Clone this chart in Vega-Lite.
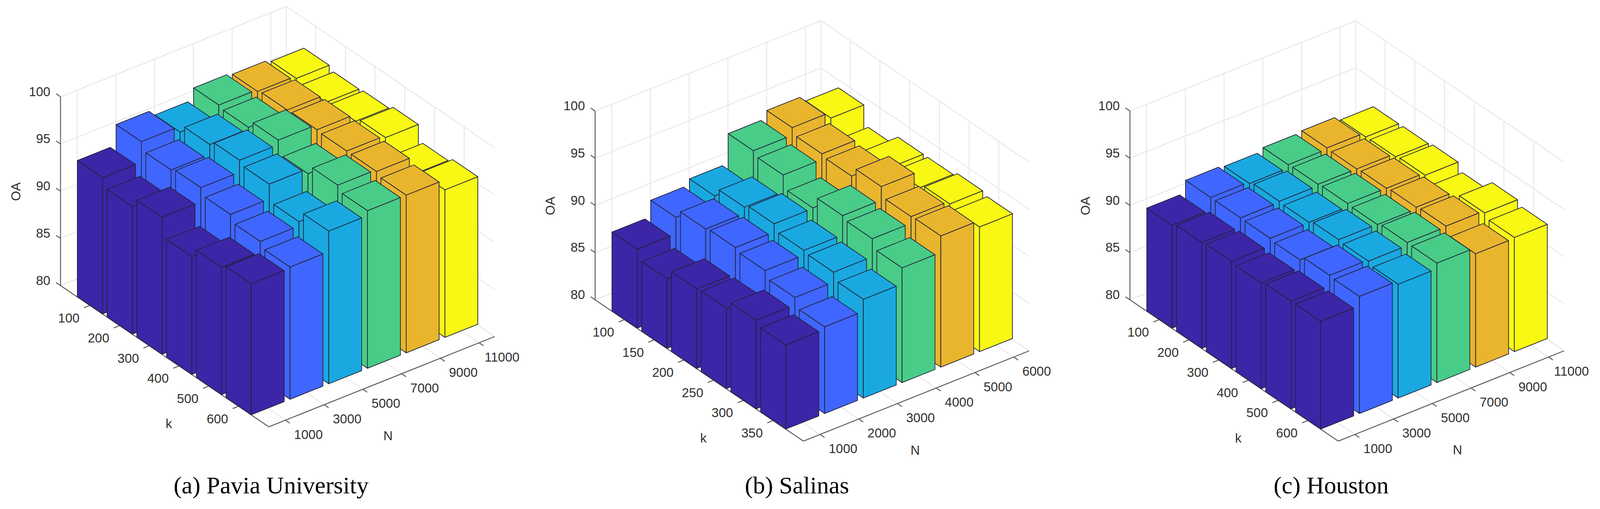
{
  "$schema": "https://vega.github.io/schema/vega-lite/v6.json",
  "autosize": {"type": "none"},
  "width": 4096,
  "height": 1302,
  "padding": 0,
  "background": "#ffffff",
  "config": {"view": {"stroke": null}},
  "params": [
    {"name": "a0", "value": -0.985},
    {"name": "a1", "value": 6.02},
    {"name": "b0", "value": -0.43},
    {"name": "b1", "value": 5.4},
    {"name": "w", "value": 0.425},
    {"name": "tk", "value": 0.15}
  ],
  "datasets": {
    "views": [
      {"panel": "a", "X0": 280.4, "Y0": 764.2},
      {"panel": "b", "X0": 1688.4, "Y0": 800.7},
      {"panel": "c", "X0": 3097, "Y0": 800.7}
    ]
  },
  "data": {"values": [
    {"panel":"a","kind":"frame"},{"panel":"b","kind":"frame"},{"panel":"c","kind":"frame"},
    {"panel":"a","kind":"k","pos":0,"label":"100"},{"panel":"a","kind":"k","pos":1,"label":"200"},{"panel":"a","kind":"k","pos":2,"label":"300"},{"panel":"a","kind":"k","pos":3,"label":"400"},{"panel":"a","kind":"k","pos":4,"label":"500"},{"panel":"a","kind":"k","pos":5,"label":"600"},
    {"panel":"a","kind":"N","pos":0,"label":"1000"},{"panel":"a","kind":"N","pos":1,"label":"3000"},{"panel":"a","kind":"N","pos":2,"label":"5000"},{"panel":"a","kind":"N","pos":3,"label":"7000"},{"panel":"a","kind":"N","pos":4,"label":"9000"},{"panel":"a","kind":"N","pos":5,"label":"11000"},
    {"panel":"b","kind":"k","pos":0,"label":"100"},{"panel":"b","kind":"k","pos":1,"label":"150"},{"panel":"b","kind":"k","pos":2,"label":"200"},{"panel":"b","kind":"k","pos":3,"label":"250"},{"panel":"b","kind":"k","pos":4,"label":"300"},{"panel":"b","kind":"k","pos":5,"label":"350"},
    {"panel":"b","kind":"N","pos":0,"label":"1000"},{"panel":"b","kind":"N","pos":1,"label":"2000"},{"panel":"b","kind":"N","pos":2,"label":"3000"},{"panel":"b","kind":"N","pos":3,"label":"4000"},{"panel":"b","kind":"N","pos":4,"label":"5000"},{"panel":"b","kind":"N","pos":5,"label":"6000"},
    {"panel":"c","kind":"k","pos":0,"label":"100"},{"panel":"c","kind":"k","pos":1,"label":"200"},{"panel":"c","kind":"k","pos":2,"label":"300"},{"panel":"c","kind":"k","pos":3,"label":"400"},{"panel":"c","kind":"k","pos":4,"label":"500"},{"panel":"c","kind":"k","pos":5,"label":"600"},
    {"panel":"c","kind":"N","pos":0,"label":"1000"},{"panel":"c","kind":"N","pos":1,"label":"3000"},{"panel":"c","kind":"N","pos":2,"label":"5000"},{"panel":"c","kind":"N","pos":3,"label":"7000"},{"panel":"c","kind":"N","pos":4,"label":"9000"},{"panel":"c","kind":"N","pos":5,"label":"11000"},
    {"panel":"a","kind":"OA","pos":80,"label":"80"},{"panel":"a","kind":"OA","pos":85,"label":"85"},{"panel":"a","kind":"OA","pos":90,"label":"90"},{"panel":"a","kind":"OA","pos":95,"label":"95"},{"panel":"a","kind":"OA","pos":100,"label":"100"},
    {"panel":"b","kind":"OA","pos":80,"label":"80"},{"panel":"b","kind":"OA","pos":85,"label":"85"},{"panel":"b","kind":"OA","pos":90,"label":"90"},{"panel":"b","kind":"OA","pos":95,"label":"95"},{"panel":"b","kind":"OA","pos":100,"label":"100"},
    {"panel":"c","kind":"OA","pos":80,"label":"80"},{"panel":"c","kind":"OA","pos":85,"label":"85"},{"panel":"c","kind":"OA","pos":90,"label":"90"},{"panel":"c","kind":"OA","pos":95,"label":"95"},{"panel":"c","kind":"OA","pos":100,"label":"100"},
    {"panel":"a","kind":"text","role":"t","label":"k","a":4.69,"b":-1.99,"z":80},{"panel":"a","kind":"text","role":"t","label":"N","a":7.8,"b":1.283,"z":80},{"panel":"a","kind":"text","role":"v","label":"OA","a":-1.52,"b":-1.16,"z":90},{"panel":"a","kind":"text","role":"cap","label":"(a) Pavia University","a":7.892,"b":-1.807,"z":80},
    {"panel":"b","kind":"text","role":"t","label":"k","a":4.69,"b":-1.99,"z":80},{"panel":"b","kind":"text","role":"t","label":"N","a":7.71,"b":1.159,"z":80},{"panel":"b","kind":"text","role":"v","label":"OA","a":-1.52,"b":-1.16,"z":90},{"panel":"b","kind":"text","role":"cap","label":"(b) Salinas","a":7.339,"b":-1.608,"z":80},
    {"panel":"c","kind":"text","role":"t","label":"k","a":4.69,"b":-1.99,"z":80},{"panel":"c","kind":"text","role":"t","label":"N","a":7.8,"b":1.283,"z":80},{"panel":"c","kind":"text","role":"v","label":"OA","a":-1.52,"b":-1.16,"z":90},{"panel":"c","kind":"text","role":"cap","label":"(c) Houston","a":7.331,"b":-1.618,"z":80},

    {"panel":"a","kind":"bar","k":100,"N":11000,"i":0,"j":5,"OA":96.74},{"panel":"a","kind":"bar","k":200,"N":11000,"i":1,"j":5,"OA":96.35},{"panel":"a","kind":"bar","k":300,"N":11000,"i":2,"j":5,"OA":96.48},{"panel":"a","kind":"bar","k":400,"N":11000,"i":3,"j":5,"OA":96.88},{"panel":"a","kind":"bar","k":500,"N":11000,"i":4,"j":5,"OA":95.2},{"panel":"a","kind":"bar","k":600,"N":11000,"i":5,"j":5,"OA":95.62},
    {"panel":"a","kind":"bar","k":100,"N":9000,"i":0,"j":4,"OA":97.0},{"panel":"a","kind":"bar","k":200,"N":9000,"i":1,"j":4,"OA":97.17},{"panel":"a","kind":"bar","k":300,"N":9000,"i":2,"j":4,"OA":97.22},{"panel":"a","kind":"bar","k":400,"N":9000,"i":3,"j":4,"OA":97.1},{"panel":"a","kind":"bar","k":500,"N":9000,"i":4,"j":4,"OA":97.07},{"panel":"a","kind":"bar","k":600,"N":9000,"i":5,"j":4,"OA":96.7},
    {"panel":"a","kind":"bar","k":100,"N":7000,"i":0,"j":3,"OA":97.2},{"panel":"a","kind":"bar","k":200,"N":7000,"i":1,"j":3,"OA":96.97},{"panel":"a","kind":"bar","k":300,"N":7000,"i":2,"j":3,"OA":97.76},{"panel":"a","kind":"bar","k":400,"N":7000,"i":3,"j":3,"OA":96.34},{"panel":"a","kind":"bar","k":500,"N":7000,"i":4,"j":3,"OA":97.26},{"panel":"a","kind":"bar","k":600,"N":7000,"i":5,"j":3,"OA":96.69},
    {"panel":"a","kind":"bar","k":100,"N":5000,"i":0,"j":2,"OA":95.97},{"panel":"a","kind":"bar","k":200,"N":5000,"i":1,"j":2,"OA":96.8},{"panel":"a","kind":"bar","k":300,"N":5000,"i":2,"j":2,"OA":97.27},{"panel":"a","kind":"bar","k":400,"N":5000,"i":3,"j":2,"OA":96.87},{"panel":"a","kind":"bar","k":500,"N":5000,"i":4,"j":2,"OA":95.03},{"panel":"a","kind":"bar","k":600,"N":5000,"i":5,"j":2,"OA":96.17},
    {"panel":"a","kind":"bar","k":100,"N":3000,"i":0,"j":1,"OA":96.6},{"panel":"a","kind":"bar","k":200,"N":3000,"i":1,"j":1,"OA":95.74},{"panel":"a","kind":"bar","k":300,"N":3000,"i":2,"j":1,"OA":96.0},{"panel":"a","kind":"bar","k":400,"N":3000,"i":3,"j":1,"OA":95.3},{"panel":"a","kind":"bar","k":500,"N":3000,"i":4,"j":1,"OA":94.58},{"panel":"a","kind":"bar","k":600,"N":3000,"i":5,"j":1,"OA":94.0},
    {"panel":"a","kind":"bar","k":100,"N":1000,"i":0,"j":0,"OA":94.43},{"panel":"a","kind":"bar","k":200,"N":1000,"i":1,"j":0,"OA":93.5},{"panel":"a","kind":"bar","k":300,"N":1000,"i":2,"j":0,"OA":94.5},{"panel":"a","kind":"bar","k":400,"N":1000,"i":3,"j":0,"OA":92.47},{"panel":"a","kind":"bar","k":500,"N":1000,"i":4,"j":0,"OA":93.46},{"panel":"a","kind":"bar","k":600,"N":1000,"i":5,"j":0,"OA":93.86},

    {"panel":"b","kind":"bar","k":100,"N":6000,"i":0,"j":5,"OA":94.05},{"panel":"b","kind":"bar","k":150,"N":6000,"i":1,"j":5,"OA":92.0},{"panel":"b","kind":"bar","k":200,"N":6000,"i":2,"j":5,"OA":93.1},{"panel":"b","kind":"bar","k":250,"N":6000,"i":3,"j":5,"OA":93.1},{"panel":"b","kind":"bar","k":300,"N":6000,"i":4,"j":5,"OA":93.5},{"panel":"b","kind":"bar","k":350,"N":6000,"i":5,"j":5,"OA":93.2},
    {"panel":"b","kind":"bar","k":100,"N":5000,"i":0,"j":4,"OA":94.68},{"panel":"b","kind":"bar","k":150,"N":5000,"i":1,"j":4,"OA":94.04},{"panel":"b","kind":"bar","k":200,"N":5000,"i":2,"j":4,"OA":93.82},{"panel":"b","kind":"bar","k":250,"N":5000,"i":3,"j":4,"OA":94.84},{"panel":"b","kind":"bar","k":300,"N":5000,"i":4,"j":4,"OA":93.8},{"panel":"b","kind":"bar","k":350,"N":5000,"i":5,"j":4,"OA":93.89},
    {"panel":"b","kind":"bar","k":100,"N":4000,"i":0,"j":3,"OA":93.87},{"panel":"b","kind":"bar","k":150,"N":4000,"i":1,"j":3,"OA":93.44},{"panel":"b","kind":"bar","k":200,"N":4000,"i":2,"j":3,"OA":92.09},{"panel":"b","kind":"bar","k":250,"N":4000,"i":3,"j":3,"OA":93.41},{"panel":"b","kind":"bar","k":300,"N":4000,"i":4,"j":3,"OA":93.1},{"panel":"b","kind":"bar","k":350,"N":4000,"i":5,"j":3,"OA":92.15},
    {"panel":"b","kind":"bar","k":100,"N":3000,"i":0,"j":2,"OA":90.72},{"panel":"b","kind":"bar","k":150,"N":3000,"i":1,"j":2,"OA":91.67},{"panel":"b","kind":"bar","k":200,"N":3000,"i":2,"j":2,"OA":92.04},{"panel":"b","kind":"bar","k":250,"N":3000,"i":3,"j":2,"OA":91.37},{"panel":"b","kind":"bar","k":300,"N":3000,"i":4,"j":2,"OA":91.19},{"panel":"b","kind":"bar","k":350,"N":3000,"i":5,"j":2,"OA":90.45},
    {"panel":"b","kind":"bar","k":100,"N":2000,"i":0,"j":1,"OA":90.09},{"panel":"b","kind":"bar","k":150,"N":2000,"i":1,"j":1,"OA":91.0},{"panel":"b","kind":"bar","k":200,"N":2000,"i":2,"j":1,"OA":91.17},{"panel":"b","kind":"bar","k":250,"N":2000,"i":3,"j":1,"OA":90.87},{"panel":"b","kind":"bar","k":300,"N":2000,"i":4,"j":1,"OA":90.15},{"panel":"b","kind":"bar","k":350,"N":2000,"i":5,"j":1,"OA":89.18},
    {"panel":"b","kind":"bar","k":100,"N":1000,"i":0,"j":0,"OA":88.36},{"panel":"b","kind":"bar","k":150,"N":1000,"i":1,"j":0,"OA":87.38},{"panel":"b","kind":"bar","k":200,"N":1000,"i":2,"j":0,"OA":88.42},{"panel":"b","kind":"bar","k":250,"N":1000,"i":3,"j":0,"OA":88.52},{"panel":"b","kind":"bar","k":300,"N":1000,"i":4,"j":0,"OA":89.38},{"panel":"b","kind":"bar","k":350,"N":1000,"i":5,"j":0,"OA":88.9},

    {"panel":"c","kind":"bar","k":100,"N":11000,"i":0,"j":5,"OA":92.05},{"panel":"c","kind":"bar","k":200,"N":11000,"i":1,"j":5,"OA":92.09},{"panel":"c","kind":"bar","k":300,"N":11000,"i":2,"j":5,"OA":92.27},{"panel":"c","kind":"bar","k":400,"N":11000,"i":3,"j":5,"OA":91.47},{"panel":"c","kind":"bar","k":500,"N":11000,"i":4,"j":5,"OA":92.55},{"panel":"c","kind":"bar","k":600,"N":11000,"i":5,"j":5,"OA":92.09},
    {"panel":"c","kind":"bar","k":100,"N":9000,"i":0,"j":4,"OA":92.53},{"panel":"c","kind":"bar","k":200,"N":9000,"i":1,"j":4,"OA":92.44},{"panel":"c","kind":"bar","k":300,"N":9000,"i":2,"j":4,"OA":92.53},{"panel":"c","kind":"bar","k":400,"N":9000,"i":3,"j":4,"OA":92.66},{"panel":"c","kind":"bar","k":500,"N":9000,"i":4,"j":4,"OA":92.79},{"panel":"c","kind":"bar","k":600,"N":9000,"i":5,"j":4,"OA":92.0},
    {"panel":"c","kind":"bar","k":100,"N":7000,"i":0,"j":3,"OA":92.39},{"panel":"c","kind":"bar","k":200,"N":7000,"i":1,"j":3,"OA":92.45},{"panel":"c","kind":"bar","k":300,"N":7000,"i":2,"j":3,"OA":92.55},{"panel":"c","kind":"bar","k":400,"N":7000,"i":3,"j":3,"OA":92.46},{"panel":"c","kind":"bar","k":500,"N":7000,"i":4,"j":3,"OA":92.7},{"panel":"c","kind":"bar","k":600,"N":7000,"i":5,"j":3,"OA":92.65},
    {"panel":"c","kind":"bar","k":100,"N":5000,"i":0,"j":2,"OA":92.04},{"panel":"c","kind":"bar","k":200,"N":5000,"i":1,"j":2,"OA":92.29},{"panel":"c","kind":"bar","k":300,"N":5000,"i":2,"j":2,"OA":92.2},{"panel":"c","kind":"bar","k":400,"N":5000,"i":3,"j":2,"OA":92.5},{"panel":"c","kind":"bar","k":500,"N":5000,"i":4,"j":2,"OA":92.36},{"panel":"c","kind":"bar","k":600,"N":5000,"i":5,"j":2,"OA":92.05},
    {"panel":"c","kind":"bar","k":100,"N":3000,"i":0,"j":1,"OA":92.2},{"panel":"c","kind":"bar","k":200,"N":3000,"i":1,"j":1,"OA":92.18},{"panel":"c","kind":"bar","k":300,"N":3000,"i":2,"j":1,"OA":92.15},{"panel":"c","kind":"bar","k":400,"N":3000,"i":3,"j":1,"OA":92.0},{"panel":"c","kind":"bar","k":500,"N":3000,"i":4,"j":1,"OA":92.5},{"panel":"c","kind":"bar","k":600,"N":3000,"i":5,"j":1,"OA":92.4},
    {"panel":"c","kind":"bar","k":100,"N":1000,"i":0,"j":0,"OA":90.9},{"panel":"c","kind":"bar","k":200,"N":1000,"i":1,"j":0,"OA":91.21},{"panel":"c","kind":"bar","k":300,"N":1000,"i":2,"j":0,"OA":91.34},{"panel":"c","kind":"bar","k":400,"N":1000,"i":3,"j":0,"OA":91.19},{"panel":"c","kind":"bar","k":500,"N":1000,"i":4,"j":0,"OA":91.4},{"panel":"c","kind":"bar","k":600,"N":1000,"i":5,"j":0,"OA":91.41}
  ]},
  "transform": [
    {"lookup": "panel", "from": {"data": {"name": "views"}, "key": "panel", "fields": ["X0", "Y0"]}},
    {"calculate": "datum.i-w", "as": "l"},
    {"calculate": "datum.i+w", "as": "h"},
    {"calculate": "datum.j-w", "as": "m"},
    {"calculate": "datum.j+w", "as": "n"},
    {"calculate": "datum.kind==='bar' ? [['f',0,0,datum.l,datum.m,datum.OA],['f',0,1,datum.h,datum.m,datum.OA],['f',0,2,datum.h,datum.n,datum.OA],['f',0,3,datum.l,datum.n,datum.OA],['f',1,0,datum.l,datum.m,datum.OA],['f',1,1,datum.h,datum.m,datum.OA],['f',1,2,datum.h,datum.m,80],['f',1,3,datum.l,datum.m,80],['f',2,0,datum.h,datum.m,datum.OA],['f',2,1,datum.h,datum.n,datum.OA],['f',2,2,datum.h,datum.n,80],['f',2,3,datum.h,datum.m,80]] : datum.kind==='k' ? [['g',0,0,datum.pos,b0,80],['g',0,1,datum.pos,b1,80],['g',1,0,datum.pos,b1,80],['g',1,1,datum.pos,b1,100],['a',2,0,datum.pos,b0,80],['a',2,1,datum.pos,b0-tk,80],['t',3,0,datum.pos+0.144,b0-0.653,80]] : datum.kind==='N' ? [['g',0,0,a0,datum.pos,80],['g',0,1,a1,datum.pos,80],['g',1,0,a0,datum.pos,80],['g',1,1,a0,datum.pos,100],['a',2,0,a1,datum.pos,80],['a',2,1,a1+tk,datum.pos,80],['t',3,0,a1+0.747,datum.pos+0.02,80]] : datum.kind==='OA' ? [['g',0,0,a0,b0,datum.pos],['g',0,1,a0,b1,datum.pos],['g',1,0,a0,b1,datum.pos],['g',1,1,a1,b1,datum.pos],['a',2,0,a0,b0,datum.pos],['a',2,1,a0-tk,b0,datum.pos],['r',3,0,a0-0.27,b0-0.055,datum.pos]] : datum.kind==='frame' ? [['a',0,0,a0,b0,80],['a',0,1,a0,b0,100],['a',1,0,a0,b0,80],['a',1,1,a1,b0,80],['a',2,0,a1,b0,80],['a',2,1,a1,b1,80],['g',3,0,a0,b1,80],['g',3,1,a0,b1,100],['g',4,0,a0,b0,80],['g',4,1,a0,b1,80],['g',5,0,a0,b1,80],['g',5,1,a1,b1,80]] : [[datum.role,0,0,datum.a,datum.b,datum.z]]", "as": "v"},
    {"flatten": ["v"]},
    {"calculate": "datum.v[0]", "as": "r"},
    {"calculate": "datum.v[2]", "as": "c"},
    {"calculate": "datum.panel+'|'+datum.kind+'|'+datum.i+'|'+datum.j+'|'+datum.pos+'|'+datum.v[1]", "as": "key"},
    {"calculate": "datum.X0+78.3*datum.v[3]+102*datum.v[4]", "as": "sx"},
    {"calculate": "datum.Y0+51.6*datum.v[3]-39.6*datum.v[4]-24.15*(datum.v[5]-80)", "as": "sy"}
  ],
  "encoding": {
    "x": {"field": "sx", "type": "quantitative", "scale": {"domain": [0, 4214], "nice": false, "zero": false}, "axis": null},
    "y": {"field": "sy", "type": "quantitative", "scale": {"domain": [1302, 0], "nice": false, "zero": false}, "axis": null}
  },
  "layer": [
    {
      "transform": [{"filter": "datum.r==='g'"}],
      "mark": {"type": "line", "stroke": "#e4e4e4", "strokeWidth": 2},
      "encoding": {"detail": {"field": "key"}, "order": {"field": "c"}}
    },
    {
      "transform": [{"filter": "datum.r==='a'"}],
      "mark": {"type": "line", "stroke": "#5a5a5a", "strokeWidth": 2.4},
      "encoding": {"detail": {"field": "key"}, "order": {"field": "c"}}
    },
    {
      "transform": [{"filter": "datum.r==='f'"}],
      "mark": {"type": "line", "interpolate": "linear-closed", "stroke": "#22223a", "strokeWidth": 1.8, "strokeJoin": "round"},
      "encoding": {
        "detail": {"field": "key"},
        "order": {"field": "c"},
        "fill": {
          "field": "j",
          "type": "nominal",
          "scale": {"domain": [0, 1, 2, 3, 4, 5], "range": ["#3c26a7", "#3f66fe", "#19a9e0", "#49cc87", "#e9b52d", "#f9f815"]},
          "legend": null
        }
      }
    },
    {
      "transform": [{"filter": "datum.r==='t'"}],
      "mark": {"type": "text", "font": "Liberation Sans", "fontSize": 33, "align": "center", "baseline": "middle", "color": "#303030"},
      "encoding": {"text": {"field": "label"}}
    },
    {
      "transform": [{"filter": "datum.r==='r'"}],
      "mark": {"type": "text", "font": "Liberation Sans", "fontSize": 33, "align": "right", "baseline": "middle", "color": "#303030"},
      "encoding": {"text": {"field": "label"}}
    },
    {
      "transform": [{"filter": "datum.r==='v'"}],
      "mark": {"type": "text", "font": "Liberation Sans", "fontSize": 33, "angle": 270, "align": "center", "baseline": "middle", "color": "#303030"},
      "encoding": {"text": {"field": "label"}}
    },
    {
      "transform": [{"filter": "datum.r==='cap'"}],
      "mark": {"type": "text", "font": "Liberation Serif", "fontSize": 62, "align": "center", "baseline": "middle", "color": "#000000"},
      "encoding": {"text": {"field": "label"}}
    }
  ]
}
